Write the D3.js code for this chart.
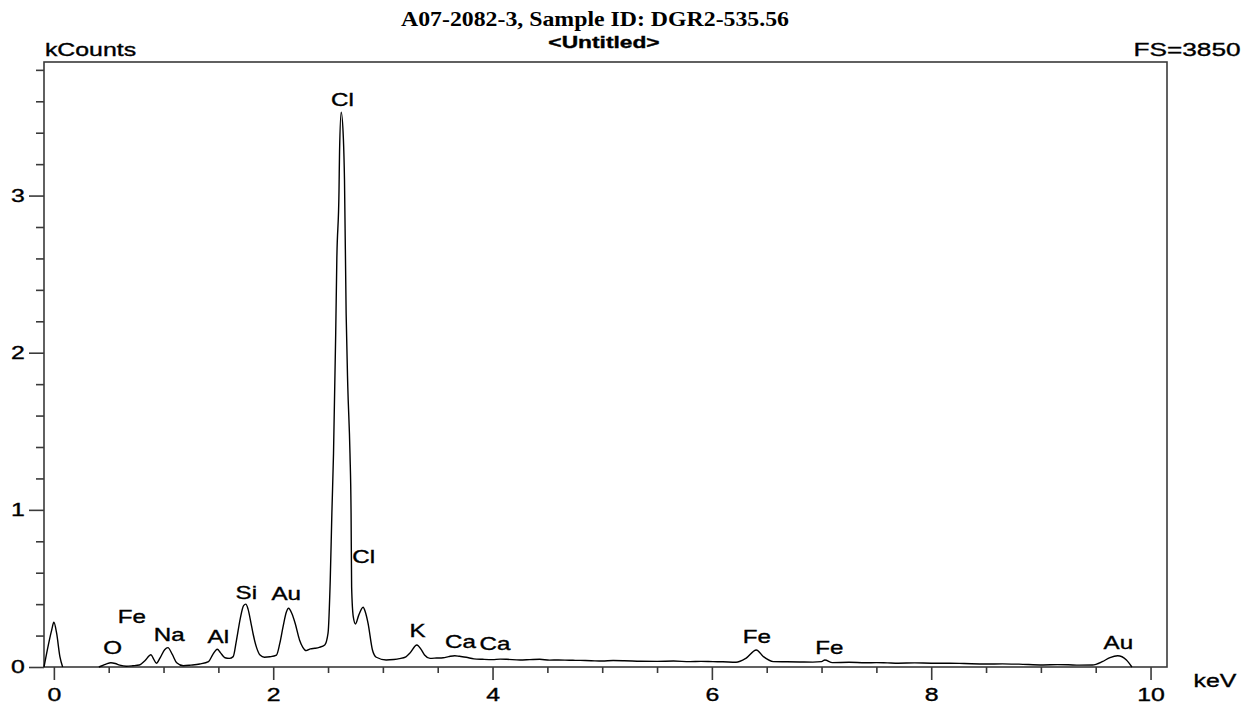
<!DOCTYPE html>
<html>
<head>
<meta charset="utf-8">
<title>A07-2082-3, Sample ID: DGR2-535.56</title>
<script src="https://cdn.jsdelivr.net/npm/d3@7"></script>
<style>
  html, body { margin: 0; padding: 0; background: #ffffff; }
  svg { display: block; }
  .sans { font-family: "Liberation Sans", Arial, Helvetica, sans-serif; fill: #000; stroke: #000; stroke-width: 0.35px; }
  .serif { font-family: "Liberation Serif", "Times New Roman", serif; fill: #000; }
</style>
</head>
<body>
<svg id="chart" width="1244" height="707"></svg>
<script>
// EDS spectrum: energy (keV) vs. counts (kCounts). The noise peak near 0 keV
// is a separate segment, a null marks the gap before the spectrum proper.
const energyKeV = [
  -0.09, -0.06, -0.02, 0.00, 0.025, 0.055, 0.08,
  null,
  0.41, 0.44, 0.48, 0.52, 0.56, 0.60, 0.66, 0.72, 0.78, 0.83, 0.885, 0.91, 0.935,
  0.97, 1.01, 1.04, 1.08, 1.12, 1.18, 1.25, 1.33, 1.41, 1.45, 1.49, 1.52, 1.56,
  1.60, 1.635, 1.665, 1.70, 1.73, 1.75, 1.77, 1.80, 1.817, 1.85, 1.88, 1.92,
  1.97, 2.03, 2.06, 2.09, 2.12, 2.14, 2.17, 2.20, 2.24, 2.27, 2.30, 2.34, 2.38,
  2.42, 2.47, 2.50, 2.52, 2.535, 2.55, 2.57, 2.58, 2.60, 2.605, 2.62, 2.64,
  2.65, 2.665, 2.68, 2.70, 2.71, 2.715, 2.73, 2.75, 2.78, 2.82, 2.84, 2.865,
  2.905, 2.94, 3.03, 3.10, 3.15, 3.21, 3.245, 3.31, 3.35, 3.38, 3.43, 3.49,
  3.55, 3.60, 3.655, 3.70, 3.76, 3.83, 3.91, 4.00, 4.07, 4.13, 4.25, 4.34,
  4.43, 4.52, 4.60, 4.70, 4.80, 4.90, 5.00, 5.10, 5.20, 5.35, 5.50, 5.65,
  5.80, 5.90, 6.01, 6.10, 6.22, 6.31, 6.405, 6.47, 6.56, 6.68, 6.80, 6.92,
  7.00, 7.03, 7.10, 7.25, 7.40, 7.50, 7.60, 7.70, 7.85, 8.00, 8.17, 8.30,
  8.50, 8.65, 8.80, 9.02, 9.15, 9.25, 9.35, 9.47, 9.56, 9.63, 9.70, 9.78, 9.83
];
const countsK = [
  0.00, 0.108, 0.235, 0.285, 0.215, 0.066, 0.00,
  null,
  0.000, 0.008, 0.020, 0.027, 0.022, 0.012, 0.005, 0.008, 0.013, 0.040, 0.078, 0.050, 0.024,
  0.060, 0.110, 0.123, 0.080, 0.027, 0.008, 0.012, 0.019, 0.034, 0.080, 0.113, 0.090, 0.059,
  0.055, 0.066, 0.170, 0.310, 0.390, 0.400, 0.370, 0.270, 0.210, 0.120, 0.076, 0.062,
  0.065, 0.076, 0.150, 0.257, 0.350, 0.374, 0.340, 0.278, 0.172, 0.125, 0.104, 0.115, 0.119,
  0.125, 0.140, 0.215, 0.550, 0.980, 1.360, 2.125, 2.590, 3.030, 3.280, 3.530, 3.360,
  3.100, 2.250, 1.785, 1.360, 0.980, 0.510, 0.320, 0.274, 0.330, 0.380, 0.350, 0.278,
  0.108, 0.062, 0.045, 0.048, 0.053, 0.065, 0.087, 0.140, 0.110, 0.076, 0.055, 0.057,
  0.059, 0.066, 0.072, 0.068, 0.062, 0.052, 0.049, 0.047, 0.050, 0.049, 0.045, 0.047,
  0.049, 0.044, 0.045, 0.043, 0.042, 0.040, 0.038, 0.041, 0.040, 0.037, 0.036, 0.038,
  0.034, 0.036, 0.034, 0.033, 0.030, 0.055, 0.108, 0.066, 0.034, 0.033, 0.032, 0.031,
  0.034, 0.045, 0.028, 0.030, 0.027, 0.028, 0.026, 0.024, 0.026, 0.024, 0.024, 0.022,
  0.019, 0.020, 0.018, 0.013, 0.015, 0.014, 0.012, 0.013, 0.034, 0.060, 0.072, 0.045, 0.000
];

// Element identifications: name, energy of the label centre, label baseline height
const peakNames   = ["Cl", "Fe", "O", "Na", "Al", "Si", "Au", "Cl", "K", "Ca", "Ca", "Fe", "Fe", "Au"];
const peakKeV     = [2.632, 0.710, 0.537, 1.052, 1.499, 1.755, 2.118, 2.825, 3.316, 3.708, 4.022, 6.411, 7.071, 9.706];
const peakLabelK  = [3.571, 0.282, 0.081, 0.166, 0.155, 0.433, 0.426, 0.660, 0.189, 0.119, 0.108, 0.155, 0.083, 0.115];

// Axis ticks
const xMajorTicks = [0, 2, 4, 6, 8, 10];
const xMinorTicks = [0.5, 1, 1.5, 2.5, 3, 3.5, 4.5, 5, 5.5, 6.5, 7, 7.5, 8.5, 9, 9.5];
const yMajorTicks = [0, 1, 2, 3];
const yMinorTicks = [0.2, 0.4, 0.6, 0.8, 1.2, 1.4, 1.6, 1.8, 2.2, 2.4, 2.6, 2.8, 3.2, 3.4, 3.6, 3.8];

const titleText = "A07-2082-3, Sample ID: DGR2-535.56";
const subtitleText = "<Untitled>";
const yUnitText = "kCounts";
const xUnitText = "keV";
const fullScaleText = "FS=3850";

// ---- layout ----
const frame = { left: 44, right: 1167, top: 62, bottom: 667 };
const stretch = 1.38;          // wide sans lettering
const axisColor = "#3a3a3a";

const svg = d3.select("#chart");

const x = d3.scaleLinear().domain([-0.09, 10.15]).range([frame.left, frame.right]);
const y = d3.scaleLinear().domain([0, 3.85]).range([frame.bottom, frame.top]);

// horizontally stretched sans text, centred on (px, py)
function sansLabel(parent, px, py, text, size, weight) {
  return parent.append("text")
    .attr("class", "sans")
    .attr("transform", `translate(${px},${py}) scale(${stretch},1)`)
    .attr("text-anchor", "middle")
    .style("font-size", size + "px")
    .style("font-weight", weight || "normal")
    .text(text);
}

// ---- frame ----
svg.append("rect")
  .attr("x", frame.left).attr("y", frame.top)
  .attr("width", frame.right - frame.left).attr("height", frame.bottom - frame.top)
  .attr("fill", "none").attr("stroke", axisColor).attr("stroke-width", 1.6);

// ---- x axis ----
const xAxisG = svg.append("g").attr("transform", `translate(0,${frame.bottom})`);
xAxisG.append("g")
  .call(d3.axisBottom(x).tickValues(xMinorTicks).tickSize(6).tickFormat(""))
  .call(g => g.select(".domain").remove());
xAxisG.append("g")
  .call(d3.axisBottom(x).tickValues(xMajorTicks).tickSize(13).tickPadding(8).tickFormat(d3.format("d")))
  .call(g => g.select(".domain").remove());
xAxisG.selectAll("line").attr("stroke", axisColor).attr("stroke-width", 1.6);
xAxisG.selectAll("text")
  .attr("class", "sans")
  .attr("transform", `scale(${stretch},1)`)
  .style("font-size", "18px")
  .attr("fill", "#000");

// ---- y axis ----
const yAxisG = svg.append("g").attr("transform", `translate(${frame.left},0)`);
yAxisG.append("g")
  .call(d3.axisLeft(y).tickValues(yMinorTicks).tickSize(8).tickFormat(""))
  .call(g => g.select(".domain").remove());
yAxisG.append("g")
  .call(d3.axisLeft(y).tickValues(yMajorTicks).tickSize(15).tickFormat(d3.format("d")))
  .call(g => g.select(".domain").remove())
  .call(g => g.selectAll("text")
    .attr("class", "sans")
    .attr("text-anchor", "middle")
    .attr("x", -26 / stretch)
    .attr("transform", `scale(${stretch},1)`)
    .style("font-size", "18px")
    .attr("fill", "#000"));
yAxisG.selectAll("line").attr("stroke", axisColor).attr("stroke-width", 1.6);

// ---- spectrum ----
const spectrum = energyKeV.map((e, i) => ({ e, c: countsK[i] }));
const line = d3.line()
  .defined(d => d.e !== null && d.c !== null)
  .x(d => x(d.e))
  .y(d => y(d.c))
  .curve(d3.curveMonotoneX);

svg.append("path")
  .datum(spectrum)
  .attr("d", line)
  .attr("fill", "none")
  .attr("stroke", "#000")
  .attr("stroke-width", 1.4)
  .attr("stroke-linejoin", "round");

// ---- element labels ----
const labelsG = svg.append("g");
peakNames.forEach((name, i) => {
  sansLabel(labelsG, x(peakKeV[i]), y(peakLabelK[i]), name, 17.5);
});

// ---- titles and units ----
svg.append("text")
  .attr("class", "serif")
  .attr("x", 595).attr("y", 26)
  .attr("text-anchor", "middle")
  .attr("textLength", 388)
  .attr("lengthAdjust", "spacingAndGlyphs")
  .style("font-size", "21px")
  .style("font-weight", "bold")
  .text(titleText);

sansLabel(svg, 604, 47.5, subtitleText, 16.5, "bold");
sansLabel(svg, 90.5, 56, yUnitText, 18);
sansLabel(svg, 1187, 56, fullScaleText, 19);
sansLabel(svg, 1215, 687, xUnitText, 18);
</script>
</body>
</html>
